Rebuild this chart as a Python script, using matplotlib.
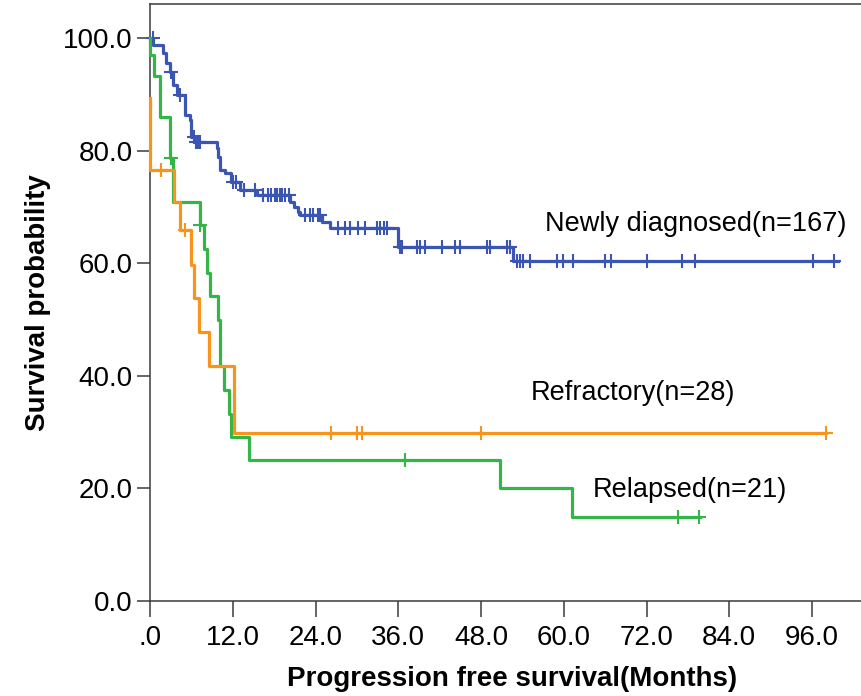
import numpy as np
import matplotlib.pyplot as plt
from matplotlib import font_manager

# Kaplan-Meier steps read as (time in months, survival % after the step)
new_t = [0, 0.45, 1.9, 2.3, 2.9, 3.4, 3.9, 5.1, 5.8, 6.0, 6.5, 9.7, 9.9, 10.2,
         10.9, 11.8, 13.0, 15.5, 20.3, 20.9, 21.4, 21.7, 25.0, 26.1, 36.0, 52.7]
new_s = [100, 98.8, 97.3, 95.5, 94.0, 91.6, 89.9, 86.3, 85.4, 82.5, 81.6, 80.4,
         78.9, 76.6, 76.0, 74.5, 73.0, 72.1, 70.9, 70.0, 69.1, 68.5, 67.4, 66.2,
         62.9, 60.4]
new_end = 99.8
new_cens = [0.4, 3.0, 4.3, 6.4, 6.7, 7.0, 7.3, 12.1, 12.5, 13.6, 15.2,
            16.4, 17.1, 17.6, 18.1, 18.4, 18.9, 19.1, 19.6, 20.1,
            22.5, 23.2, 23.7, 24.4, 24.7,
            27.3, 28.3, 29.0, 30.2, 31.2, 32.9, 33.4, 33.9, 34.4,
            36.3, 36.5, 38.7, 39.2, 39.9, 42.3, 44.2, 44.9, 48.8, 49.3, 51.7, 52.2,
            53.2, 53.7, 54.1, 55.1, 59.0, 59.9, 61.4, 66.0, 66.9, 72.0, 77.1, 79.0,
            96.2, 99.2]

rel_t = [0, 0, 0.65, 1.45, 2.9, 3.35, 7.25, 7.85, 8.3, 8.65, 9.9, 10.1, 10.8,
         11.4, 11.8, 14.3, 50.8, 61.2]
rel_s = [100, 97.0, 93.3, 86.0, 78.6, 70.8, 66.7, 62.5, 58.3, 54.2, 50.0, 41.7,
         37.5, 33.3, 29.2, 25.0, 20.0, 15.0]
rel_end = 79.8
rel_cens = [3.0, 7.25, 37.0, 76.6, 79.6]

ref_t = [0, 0, 3.5, 4.35, 6.0, 6.4, 7.1, 8.6, 12.2]
ref_s = [89.3, 76.6, 70.9, 65.9, 59.7, 53.8, 47.8, 41.8, 29.8]
ref_end = 98.0
ref_cens = [1.55, 5.1, 26.2, 30.0, 30.7, 48.0, 98.0]

x_ticks = [0, 12, 24, 36, 48, 60, 72, 84, 96]
x_labels = ['.0', '12.0', '24.0', '36.0', '48.0', '60.0', '72.0', '84.0', '96.0']
y_ticks = [0, 20, 40, 60, 80, 100]

BLUE = '#3A55B2'
GREEN = '#33B548'
ORANGE = '#F8941C'

fonts = {f.name for f in font_manager.fontManager.ttflist}
narrow = 'Liberation Sans Narrow' if 'Liberation Sans Narrow' in fonts else 'Liberation Sans'
plt.rcParams['font.family'] = ['Liberation Sans', 'DejaVu Sans']


def surv_at(t, times, surv):
    i = np.searchsorted(times, t, side='right') - 1
    return np.asarray(surv)[i]


def km_curve(ax, times, surv, end, cens, color):
    tt = list(times) + [end]
    ss = list(surv) + [surv[-1]]
    ax.plot(tt, ss, drawstyle='steps-post', color=color, lw=2.3,
            clip_on=False, zorder=3)
    cy = [surv_at(c, times, surv) for c in cens]
    ax.plot(cens, cy, ls='none', marker='+', ms=10, mew=1.5, color=color,
            clip_on=False, zorder=3)


fig = plt.figure(figsize=(8.61, 6.96), dpi=100)
ax = fig.add_axes([150 / 861, 1 - 601 / 696, 711 / 861, 597 / 696])

km_curve(ax, new_t, new_s, new_end, new_cens, BLUE)
km_curve(ax, rel_t, rel_s, rel_end, rel_cens, GREEN)
km_curve(ax, ref_t, ref_s, ref_end, ref_cens, ORANGE)

ax.set_xlim(0, 711 / 6.896)
ax.set_ylim(0, 597 / 5.63)

ax.spines['right'].set_visible(False)
for side in ['left', 'bottom', 'top']:
    ax.spines[side].set_color('#3a3a3a')
    ax.spines[side].set_linewidth(1.1)

ax.set_xticks(x_ticks)
ax.set_xticklabels(x_labels, fontsize=20, family=[narrow, 'Liberation Sans'])
ax.set_yticks(y_ticks)
ax.set_yticklabels(['%.1f' % v for v in y_ticks], fontsize=20)
ax.tick_params(axis='x', length=11.5, width=1.1, color='#3a3a3a', pad=6)
ax.tick_params(axis='y', length=9.5, width=1.1, color='#3a3a3a', pad=3)

ax.set_xlabel('Progression free survival(Months)', fontsize=20, fontweight='bold',
              va='center')
ax.xaxis.set_label_coords(0.509, -0.131)
ax.set_ylabel('Survival probability', fontsize=20, fontweight='bold', va='center')
ax.yaxis.set_label_coords(-0.1575, 0.5)

ax.text(57.3, 67.0, 'Newly diagnosed(n=167)', fontsize=19.5, va='center', ha='left')
ax.text(55.2, 36.9, 'Refractory(n=28)', fontsize=19.5, va='center', ha='left')
ax.text(64.2, 19.7, 'Relapsed(n=21)', fontsize=19.5, va='center', ha='left')

fig.savefig('out.png', dpi=100)
